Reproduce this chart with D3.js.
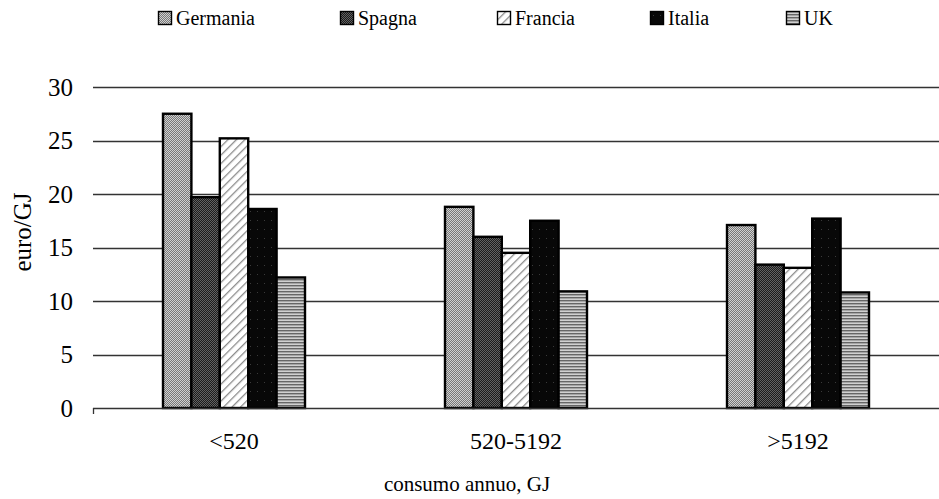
<!DOCTYPE html>
<html>
<head>
<meta charset="utf-8">
<script src="https://cdn.jsdelivr.net/npm/d3@7"></script>
<style>
  html, body { margin: 0; padding: 0; background: #fff; }
  svg { display: block; }
  svg text { font-family: "Liberation Serif", "DejaVu Serif", serif !important; fill: #000; }
</style>
</head>
<body>
<svg id="chart" width="939" height="499"></svg>
<script>
// Prezzi del gas per classe di consumo annuo (euro/GJ)
const categories = ["<520", "520-5192", ">5192"];
const countries = ["Germania", "Spagna", "Francia", "Italia", "UK"];
const germania = [27.5, 18.8, 17.1];
const spagna   = [19.7, 16.0, 13.4];
const francia  = [25.2, 14.5, 13.1];
const italia   = [18.6, 17.5, 17.7];
const uk       = [12.2, 10.9, 10.8];
const yTicks   = [0, 5, 10, 15, 20, 25, 30];

const seriesValues = [germania, spagna, francia, italia, uk];
const rows = categories.map((c, i) => ({
  category: c,
  values: countries.map((k, j) => ({ key: k, value: seriesValues[j][i] }))
}));

const W = 939, H = 499;
const margin = { top: 87, right: 0, bottom: 91, left: 93 };
const SERIF = "'Liberation Serif', 'DejaVu Serif', serif";
const svg = d3.select("#chart");
const defs = svg.append("defs");

// Fill patterns, one per country
function checker(id, a, b) {
  const p = defs.append("pattern").attr("id", id)
    .attr("patternUnits", "userSpaceOnUse").attr("width", 2).attr("height", 2);
  p.append("rect").attr("width", 2).attr("height", 2).attr("fill", a);
  p.append("rect").attr("width", 1).attr("height", 1).attr("fill", b);
  p.append("rect").attr("x", 1).attr("y", 1).attr("width", 1).attr("height", 1).attr("fill", b);
}
checker("pat-germania", "#d0d0d0", "#787878");
checker("pat-spagna", "#626262", "#1c1c1c");
{
  const p = defs.append("pattern").attr("id", "pat-francia")
    .attr("patternUnits", "userSpaceOnUse").attr("width", 6).attr("height", 6)
    .attr("patternTransform", "rotate(45)");
  p.append("rect").attr("width", 6).attr("height", 6).attr("fill", "#ffffff");
  p.append("rect").attr("x", 0).attr("width", 1.3).attr("height", 6).attr("fill", "#8c8c8c");
}
{
  const p = defs.append("pattern").attr("id", "pat-italia")
    .attr("patternUnits", "userSpaceOnUse").attr("width", 7).attr("height", 9);
  p.append("rect").attr("width", 7).attr("height", 9).attr("fill", "#080808");
  p.append("rect").attr("x", 3).attr("y", 4).attr("width", 1).attr("height", 1).attr("fill", "#3a3a3a");
}
{
  const p = defs.append("pattern").attr("id", "pat-uk")
    .attr("patternUnits", "userSpaceOnUse").attr("width", 2).attr("height", 3);
  p.append("rect").attr("width", 2).attr("height", 3).attr("fill", "#d0d0d0");
  p.append("rect").attr("width", 2).attr("height", 1.4).attr("fill", "#666666");
}
const fills = {
  Germania: "url(#pat-germania)", Spagna: "url(#pat-spagna)", Francia: "url(#pat-francia)",
  Italia: "url(#pat-italia)", UK: "url(#pat-uk)"
};

const x0 = d3.scaleBand().domain(categories).range([margin.left, W - margin.right]).paddingInner(0).paddingOuter(0);
const groupW = 142;
const x1 = d3.scaleBand().domain(countries).range([0, groupW]);
const y = d3.scaleLinear().domain([0, 30]).range([H - margin.bottom, margin.top]);

// Gridlines and y axis labels
const yAxis = d3.axisLeft(y).tickValues(yTicks).tickSize(0).tickPadding(20);
const gy = svg.append("g").attr("transform", `translate(${margin.left},0)`).call(yAxis)
  .attr("font-family", SERIF);
gy.select(".domain").remove();
gy.selectAll("text").attr("font-size", 25).attr("fill", "#000")
  .style("font-family", SERIF).attr("dy", "0.33em");

svg.append("g").selectAll("line").data(yTicks.filter(d => d > 0)).join("line")
  .attr("x1", margin.left).attr("x2", W - margin.right)
  .attr("y1", d => Math.round(y(d)) + 0.5).attr("y2", d => Math.round(y(d)) + 0.5)
  .attr("stroke", "#333").attr("stroke-width", 1.3);

// Bars
const groups = svg.append("g").selectAll("g").data(rows).join("g")
  .attr("transform", d => `translate(${x0(d.category) + (x0.bandwidth() - groupW) / 2},0)`);
groups.selectAll("rect").data(d => d.values).join("rect")
  .attr("x", d => x1(d.key))
  .attr("y", d => y(d.value))
  .attr("width", x1.bandwidth())
  .attr("height", d => y(0) - y(d.value))
  .attr("fill", d => fills[d.key])
  .attr("stroke", "#000").attr("stroke-width", 2.4);

// X axis baseline, tick and category labels
const xAxis = d3.axisBottom(x0).tickSize(0).tickPadding(24);
const gx = svg.append("g").attr("transform", `translate(0,${y(0)})`).call(xAxis)
  .attr("font-family", SERIF);
gx.select(".domain").remove();
gx.selectAll("text").attr("font-size", 24).attr("fill", "#000").style("font-family", SERIF);
svg.append("line").attr("x1", margin.left).attr("x2", W - margin.right)
  .attr("y1", y(0) + 0.5).attr("y2", y(0) + 0.5).attr("stroke", "#333").attr("stroke-width", 1.3);
svg.append("line").attr("x1", margin.left + 0.5).attr("x2", margin.left + 0.5)
  .attr("y1", y(0)).attr("y2", y(0) + 6).attr("stroke", "#333").attr("stroke-width", 1.3);

// Axis titles
svg.append("text").attr("x", 467).attr("y", 491).attr("text-anchor", "middle")
  .attr("font-size", 21).style("font-family", SERIF).text("consumo annuo, GJ");
svg.append("text").attr("transform", "translate(31,232) rotate(-90)").attr("text-anchor", "middle")
  .attr("font-size", 25).style("font-family", SERIF).text("euro/GJ");

// Legend
const legendX = [158, 340, 497, 650, 786];
const lg = svg.append("g").selectAll("g").data(countries).join("g")
  .attr("transform", (d, i) => `translate(${legendX[i]},11)`);
lg.append("rect").attr("x", 0.5).attr("y", 0.5).attr("width", 13).attr("height", 13)
  .attr("fill", d => fills[d]).attr("stroke", "#000").attr("stroke-width", 1.4);
lg.append("text").attr("x", 18).attr("y", 14).attr("font-size", 20)
  .style("font-family", SERIF).text(d => d);
</script>
</body>
</html>
